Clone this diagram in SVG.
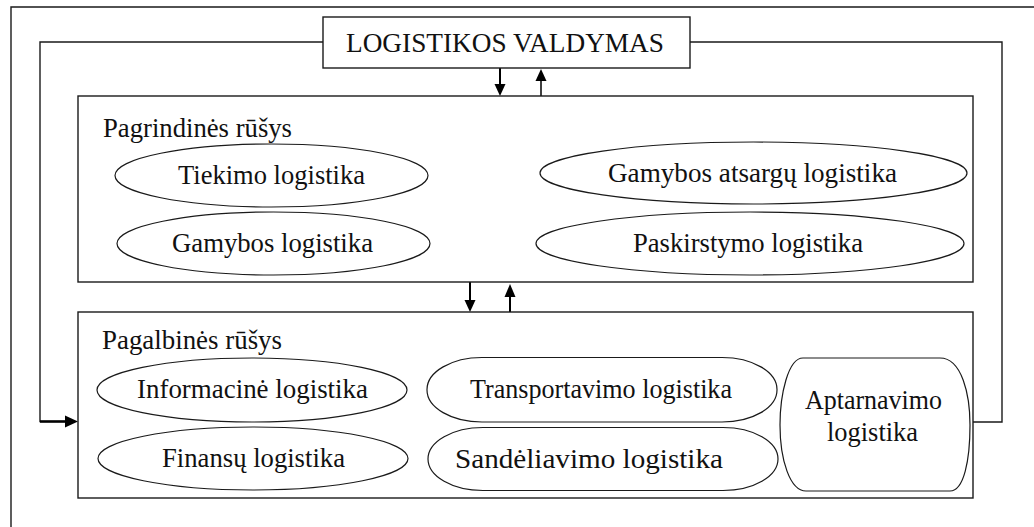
<svg xmlns="http://www.w3.org/2000/svg" width="1034" height="527" viewBox="0 0 1034 527">
<style>
.ln{fill:none;stroke:#1a1a1a;stroke-width:1.4}
.bx{fill:#fff;stroke:#1a1a1a;stroke-width:1.4}
.sh{fill:#fff;stroke:#1a1a1a;stroke-width:1.2}
.ar{fill:none;stroke:#000;stroke-width:2}
.t{font-family:"Liberation Serif","Times New Roman",serif;font-size:27px;fill:#111}
</style>
<rect width="1034" height="527" fill="#fff"/>
<path class="ln" d="M11,527 L11,7 L1034,7"/>
<g id="connectors">
<path class="ln" d="M323,42 L40,42 L40,421.5 L66,421.5"/>
<path d="M65,415.5 L78,421.5 L65,427.5 Z" fill="#000"/>
<line x1="40" y1="421.5" x2="68" y2="421.5" stroke="#000" stroke-width="2.5"/>
<path class="ln" d="M690,42 L1002,42 L1002,422 L973,422"/>
<line class="ar" x1="500" y1="68" x2="500" y2="86"/>
<path d="M494.5,84 L500,96 L505.5,84 Z" fill="#000"/>
<line stroke="#000" stroke-width="1.5" x1="541" y1="96" x2="541" y2="78"/>
<path d="M535.5,81 L541,69 L546.5,81 Z" fill="#000"/>
<line class="ar" x1="470" y1="282" x2="470" y2="301"/>
<path d="M464.5,300 L470,312 L475.5,300 Z" fill="#000"/>
<line class="ar" x1="510" y1="312" x2="510" y2="294"/>
<path d="M504.5,297 L510,284 L515.5,297 Z" fill="#000"/>
</g>
<g id="title">
<rect class="bx" x="323" y="17" width="367" height="51"/>
<text class="t" x="346" y="52" textLength="318" lengthAdjust="spacingAndGlyphs">LOGISTIKOS VALDYMAS</text>
</g>
<g id="pagrindines">
<rect class="bx" x="78" y="96" width="895" height="186"/>
<text class="t" x="103" y="137" textLength="189" lengthAdjust="spacingAndGlyphs">Pagrindinės rūšys</text>
</g>
<g id="tiekimo">
<ellipse class="sh" cx="271.5" cy="175.5" rx="156.5" ry="31.5"/>
<text class="t" x="178" y="184" textLength="187" lengthAdjust="spacingAndGlyphs">Tiekimo logistika</text>
</g>
<g id="gamybos">
<ellipse class="sh" cx="273.5" cy="243.5" rx="156.5" ry="31.5"/>
<text class="t" x="172" y="252" textLength="201" lengthAdjust="spacingAndGlyphs">Gamybos logistika</text>
</g>
<g id="gamybos-atsargu">
<ellipse class="sh" cx="753.5" cy="173" rx="213.5" ry="31"/>
<text class="t" x="608" y="182" textLength="289" lengthAdjust="spacingAndGlyphs">Gamybos atsargų logistika</text>
</g>
<g id="paskirstymo">
<ellipse class="sh" cx="750" cy="243.5" rx="214" ry="31.5"/>
<text class="t" x="633" y="252" textLength="230" lengthAdjust="spacingAndGlyphs">Paskirstymo logistika</text>
</g>
<g id="pagalbines">
<rect class="bx" x="78" y="312" width="895" height="186"/>
<text class="t" x="102" y="349" textLength="180" lengthAdjust="spacingAndGlyphs">Pagalbinės rūšys</text>
</g>
<g id="informacine">
<ellipse class="sh" cx="252" cy="390" rx="155" ry="32"/>
<text class="t" x="137" y="398" textLength="231" lengthAdjust="spacingAndGlyphs">Informacinė logistika</text>
</g>
<g id="finansu">
<ellipse class="sh" cx="253" cy="458.5" rx="155" ry="31.5"/>
<text class="t" x="162" y="467" textLength="183" lengthAdjust="spacingAndGlyphs">Finansų logistika</text>
</g>
<g id="transportavimo">
<rect class="sh" x="427" y="357.5" width="350" height="64.5" rx="55" ry="32"/>
<text class="t" x="470" y="398" textLength="262" lengthAdjust="spacingAndGlyphs">Transportavimo logistika</text>
</g>
<g id="sandeliavimo">
<rect class="sh" x="428" y="427.5" width="350" height="63" rx="55" ry="31.5"/>
<text class="t" x="455" y="468" textLength="268" lengthAdjust="spacingAndGlyphs">Sandėliavimo logistika</text>
</g>
<g id="aptarnavimo">
<path class="sh" d="M803,358 L940,358 C962,358 970,395 970,425 C970,460 964,491 950,491 L806,491 C790,491 780,460 780,425 C780,395 788,358 803,358 Z"/>
<text class="t" x="805" y="409" textLength="137" lengthAdjust="spacingAndGlyphs">Aptarnavimo</text>
<text class="t" x="827" y="441" textLength="91" lengthAdjust="spacingAndGlyphs">logistika</text>
</g>
</svg>
